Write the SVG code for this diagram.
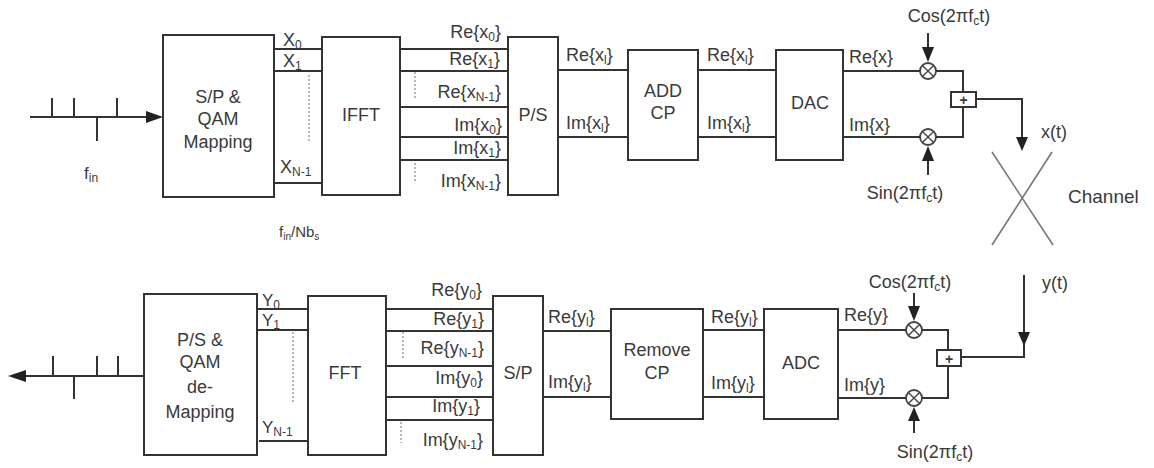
<svg xmlns="http://www.w3.org/2000/svg" width="1154" height="468" viewBox="0 0 1154 468">
<defs>
<style>
.box{fill:#fff;stroke:#333;stroke-width:2}
.ln{fill:none;stroke:#333;stroke-width:2}
.dot{fill:none;stroke:#888;stroke-width:1.2;stroke-dasharray:2,2}
.ch{fill:none;stroke:#777;stroke-width:1.6}
.ah{fill:#222}
text{font-family:"Liberation Sans",Arial,sans-serif;fill:#3a3a3a}
.bt{font-size:18px;text-anchor:middle}
.lb{font-size:18px}
.r{text-anchor:end}
.m{text-anchor:middle}
.sm{font-size:15px}
.s{font-size:12px}
</style>
<g id="mult">
<circle r="8" fill="#fff" stroke="#444" stroke-width="1.8"/>
<path d="M-5.6,-5.6L5.6,5.6M5.6,-5.6L-5.6,5.6" stroke="#444" stroke-width="1.4"/>
</g>
</defs>
<rect width="1154" height="468" fill="#fff"/>

<!-- ============ TRANSMITTER ============ -->
<g id="tx-input">
<path class="ln" d="M30,117H148M52,117V98M74,117V98M117,117V98M97,117V141"/>
<polygon class="ah" points="146,111 163,117 146,123"/>
<text x="84" y="179" font-size="17">f<tspan class="s" dy="3">in</tspan></text>
</g>
<g id="sp-qam">
<rect class="box" x="163" y="35" width="111" height="162"/>
<text class="bt" x="218" y="103">S/P &amp;</text>
<text class="bt" x="218" y="125">QAM</text>
<text class="bt" x="218" y="148">Mapping</text>
</g>
<g id="ifft">
<rect class="box" x="322" y="37" width="78" height="158"/>
<text class="bt" x="361" y="121">IFFT</text>
</g>
<g id="ps">
<rect class="box" x="508" y="37" width="50" height="158"/>
<text class="bt" x="533" y="121">P/S</text>
</g>
<g id="addcp">
<rect class="box" x="628" y="50" width="70" height="110"/>
<text class="bt" x="663" y="97">ADD</text>
<text class="bt" x="663" y="119">CP</text>
</g>
<g id="dac">
<rect class="box" x="776" y="50" width="67" height="110"/>
<text class="bt" x="810" y="109">DAC</text>
</g>
<g id="tx-mult-cos"><use href="#mult" x="928" y="71"/></g>
<g id="tx-mult-sin"><use href="#mult" x="928" y="137"/></g>
<g id="tx-sum">
<rect class="box" x="951" y="92" width="25" height="15" stroke-width="1.8"/>
<text class="m" x="963.5" y="104.5" font-size="14" font-weight="bold">+</text>
</g>
<g id="channel">
<path class="ch" d="M992,152L1053,245M1052,152L992,245"/>
<text x="1068" y="203" font-size="19">Channel</text>
</g>
<text class="sm" x="279" y="237">f<tspan font-size="10" dy="3">in</tspan><tspan dy="-3">/Nb</tspan><tspan font-size="10" dy="3">s</tspan></text>

<!-- ============ RECEIVER ============ -->
<g id="rx-output">
<path class="ln" d="M144,376H24M53,376V356M97,376V356M118,376V356M74,376V399"/>
<polygon class="ah" points="26,370 8,376 26,382"/>
</g>
<g id="ps-qam">
<rect class="box" x="144" y="294" width="113" height="161"/>
<text class="bt" x="200" y="346">P/S &amp;</text>
<text class="bt" x="200" y="368">QAM</text>
<text class="bt" x="200" y="393">de-</text>
<text class="bt" x="200" y="418">Mapping</text>
</g>
<g id="fft">
<rect class="box" x="308" y="296" width="78" height="159"/>
<text class="bt" x="345" y="379">FFT</text>
</g>
<g id="sp">
<rect class="box" x="493" y="296" width="50" height="159"/>
<text class="bt" x="518" y="379">S/P</text>
</g>
<g id="removecp">
<rect class="box" x="611" y="309" width="92" height="110"/>
<text class="bt" x="657" y="356">Remove</text>
<text class="bt" x="657" y="379">CP</text>
</g>
<g id="adc">
<rect class="box" x="764" y="309" width="74" height="110"/>
<text class="bt" x="801" y="369">ADC</text>
</g>
<g id="rx-mult-cos"><use href="#mult" x="914" y="330"/></g>
<g id="rx-mult-sin"><use href="#mult" x="914" y="398"/></g>
<g id="rx-sum">
<rect class="box" x="937" y="350" width="24" height="16" stroke-width="1.8"/>
<text class="m" x="949" y="363.5" font-size="14" font-weight="bold">+</text>
</g>

<!-- ============ CONNECTORS ============ -->
<g id="connectors">
<path class="ln" d="M274,49H322M274,71H322M274,183H322"/>
<path class="dot" d="M309,75V142"/>
<path class="ln" d="M400,49H508M400,71H508M400,107H508M400,137H508M400,160H508"/>
<path class="dot" d="M415,72V98M415,163V183"/>
<path class="ln" d="M558,70H628M558,137H628M698,70H776M698,137H776"/>
<path class="ln" d="M843,71H920M843,137H920M936,71H963V92M936,137H963V107M976,99H1022V140"/>
<polygon class="ah" points="1016,137 1028,137 1022,151"/>
<path class="ln" d="M928,33V50M928,175V158"/>
<polygon class="ah" points="922,47 934,47 928,62"/>
<polygon class="ah" points="922,161 934,161 928,146"/>

<path class="ln" d="M257,309H308M257,330H308M259,441H308"/>
<path class="dot" d="M293,332V402"/>
<path class="ln" d="M386,309H493M386,331H493M386,366H493M386,397H493M386,420H493"/>
<path class="dot" d="M403,332V358M401,422V443"/>
<path class="ln" d="M543,331H611M543,397H611M703,330H764M703,397H764"/>
<path class="ln" d="M838,330H906M838,398H906M922,330H948V350M922,398H948V366M1024,275V357H961"/>
<polygon class="ah" points="1018,332 1030,332 1024,346"/>
<path class="ln" d="M914,293V309M914,433V419"/>
<polygon class="ah" points="908,306 920,306 914,321"/>
<polygon class="ah" points="908,421 920,421 914,407"/>
</g>

<!-- ============ LABELS ============ -->
<g id="labels" class="lb">
<text x="283" y="46">X<tspan class="s" dy="3">0</tspan></text>
<text x="283" y="67">X<tspan class="s" dy="3">1</tspan></text>
<text x="280" y="173">X<tspan class="s" dy="3">N-1</tspan></text>

<text class="r" x="501" y="38">Re{x<tspan class="s" dy="3">0</tspan><tspan dy="-3">}</tspan></text>
<text class="r" x="500" y="65">Re{x<tspan class="s" dy="3">1</tspan><tspan dy="-3">}</tspan></text>
<text class="r" x="501" y="98">Re{x<tspan class="s" dy="3">N-1</tspan><tspan dy="-3">}</tspan></text>
<text class="r" x="502" y="131">Im{x<tspan class="s" dy="3">0</tspan><tspan dy="-3">}</tspan></text>
<text class="r" x="501" y="154">Im{x<tspan class="s" dy="3">1</tspan><tspan dy="-3">}</tspan></text>
<text class="r" x="501" y="187">Im{x<tspan class="s" dy="3">N-1</tspan><tspan dy="-3">}</tspan></text>

<text x="566" y="61">Re{x<tspan class="s" dy="3">l</tspan><tspan dy="-3">}</tspan></text>
<text x="566" y="129">Im{x<tspan class="s" dy="3">l</tspan><tspan dy="-3">}</tspan></text>
<text x="707" y="61">Re{x<tspan class="s" dy="3">l</tspan><tspan dy="-3">}</tspan></text>
<text x="707" y="129">Im{x<tspan class="s" dy="3">l</tspan><tspan dy="-3">}</tspan></text>

<text x="849" y="63">Re{x}</text>
<text x="849" y="131">Im{x}</text>
<text class="m" x="949" y="22">Cos(2πf<tspan class="s" dy="3">c</tspan><tspan dy="-3">t)</tspan></text>
<text class="m" x="905" y="199">Sin(2πf<tspan class="s" dy="3">c</tspan><tspan dy="-3">t)</tspan></text>
<text x="1041" y="138">x(t)</text>

<text x="262" y="306" font-size="17">Y<tspan class="s" dy="3">0</tspan></text>
<text x="262" y="326" font-size="17">Y<tspan class="s" dy="3">1</tspan></text>
<text x="262" y="433" font-size="17">Y<tspan class="s" dy="3">N-1</tspan></text>

<text class="r" x="482" y="296">Re{y<tspan class="s" dy="3">0</tspan><tspan dy="-3">}</tspan></text>
<text class="r" x="484" y="325">Re{y<tspan class="s" dy="3">1</tspan><tspan dy="-3">}</tspan></text>
<text class="r" x="484" y="354">Re{y<tspan class="s" dy="3">N-1</tspan><tspan dy="-3">}</tspan></text>
<text class="r" x="483" y="384">Im{y<tspan class="s" dy="3">0</tspan><tspan dy="-3">}</tspan></text>
<text class="r" x="480" y="412">Im{y<tspan class="s" dy="3">1</tspan><tspan dy="-3">}</tspan></text>
<text class="r" x="483" y="446">Im{y<tspan class="s" dy="3">N-1</tspan><tspan dy="-3">}</tspan></text>

<text x="548" y="323">Re{y<tspan class="s" dy="3">l</tspan><tspan dy="-3">}</tspan></text>
<text x="548" y="388">Im{y<tspan class="s" dy="3">l</tspan><tspan dy="-3">}</tspan></text>
<text x="711" y="323">Re{y<tspan class="s" dy="3">l</tspan><tspan dy="-3">}</tspan></text>
<text x="711" y="389">Im{y<tspan class="s" dy="3">l</tspan><tspan dy="-3">}</tspan></text>

<text x="844" y="321">Re{y}</text>
<text x="844" y="391">Im{y}</text>
<text class="m" x="910" y="288">Cos(2πf<tspan class="s" dy="3">c</tspan><tspan dy="-3">t)</tspan></text>
<text class="m" x="935" y="458">Sin(2πf<tspan class="s" dy="3">c</tspan><tspan dy="-3">t)</tspan></text>
<text x="1042" y="289">y(t)</text>
</g>
</svg>
